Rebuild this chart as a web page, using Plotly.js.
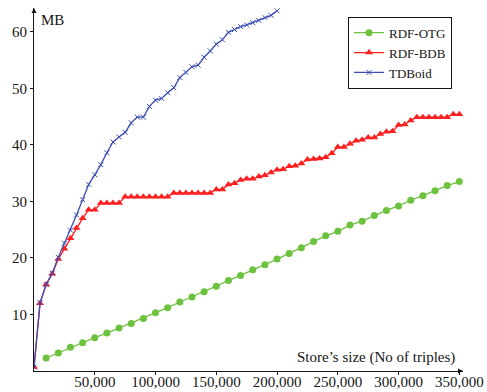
<!DOCTYPE html>
<html>
<head>
<meta charset="utf-8">
<script src="https://cdn.plot.ly/plotly-3.0.1.min.js"></script>
<style>html,body{margin:0;padding:0;background:#fff;}#chart{width:487px;height:392px;}</style>
</head>
<body>
<div id="chart"></div>
<script>
// Store size (No of triples)
const xOTG = [10000,20000,30000,40000,50000,60000,70000,80000,90000,100000,110000,120000,130000,140000,150000,160000,170000,180000,190000,200000,210000,220000,230000,240000,250000,260000,270000,280000,290000,300000,310000,320000,330000,340000,350000];
const yOTG = [2.3,3.2,4.2,5.0,5.9,6.7,7.6,8.4,9.3,10.3,11.2,12.2,13.1,14.0,15.0,16.0,16.9,17.9,18.8,19.8,20.8,21.8,22.9,23.9,24.7,25.8,26.5,27.5,28.4,29.2,30.2,31.0,31.9,32.8,33.5];

const xBDB = [0,5000,10000,15000,20000,25000,30000,35000,40000,45000,50000,55000,60000,65000,70000,75000,80000,85000,90000,95000,100000,105000,110000,115000,120000,125000,130000,135000,140000,145000,150000,155000,160000,165000,170000,175000,180000,185000,190000,195000,200000,205000,210000,215000,220000,225000,230000,235000,240000,245000,250000,255000,260000,265000,270000,275000,280000,285000,290000,295000,300000,305000,310000,315000,320000,325000,330000,335000,340000,345000,350000];
const yBDB = [0.7,12.0,15.3,17.2,19.8,21.6,23.5,25.3,27.0,28.5,28.5,29.7,29.7,29.7,29.7,30.8,30.8,30.8,30.8,30.8,30.8,30.8,30.8,31.5,31.5,31.5,31.5,31.5,31.5,31.5,32.1,32.1,33.0,33.2,33.8,34.0,34.0,34.4,34.6,35.1,35.6,35.7,36.2,36.3,36.7,37.4,37.5,37.6,37.8,38.5,39.6,39.6,40.2,40.7,40.9,41.3,41.3,41.9,42.3,42.4,43.5,43.6,44.3,44.9,44.9,44.9,44.9,44.9,44.9,45.4,45.4];

const xTDB = [0,5000,10000,15000,20000,25000,30000,35000,40000,45000,50000,55000,60000,65000,70000,75000,80000,85000,90000,95000,100000,105000,110000,115000,120000,125000,130000,135000,140000,145000,150000,155000,160000,165000,170000,175000,180000,185000,190000,195000,200000];
const yTDB = [0.7,12.1,15.3,17.3,20.1,22.6,24.9,27.6,30.3,33.0,34.7,36.5,38.6,40.5,41.4,42.2,43.9,44.9,44.9,46.8,47.9,48.2,49.2,50.1,51.9,52.8,53.8,54.1,55.5,56.6,57.8,58.6,59.9,60.4,60.9,61.2,61.6,62.0,62.5,62.9,63.7];

const xTicks = [50000,100000,150000,200000,250000,300000,350000];
const xTickText = ['50,000','100,000','150,000','200,000','250,000','300,000','350,000'];
const yTicks = [10,20,30,40,50,60];
const yTickText = ['10','20','30','40','50','60'];
const seriesNames = ['RDF-OTG','RDF-BDB','TDBoid'];
const yTitle = 'MB';
const xTitle = 'Store’s size (No of triples)';

const FONT = 'Liberation Serif, DejaVu Serif, serif';
const INK = '#151515';

const traces = [
  {x: xOTG, y: yOTG, name: seriesNames[0], type: 'scatter', mode: 'lines+markers',
   line: {color: '#6cc23e', width: 1.3}, marker: {symbol: 'circle', size: 7, color: '#6cc23e'}},
  {x: xBDB, y: yBDB, name: seriesNames[1], type: 'scatter', mode: 'lines+markers',
   line: {color: '#ff1f1f', width: 1.3}, marker: {symbol: 'triangle-up', size: 7, color: '#ff1f1f'}},
  {x: xTDB, y: yTDB, name: seriesNames[2], type: 'scatter', mode: 'lines+markers',
   line: {color: '#3b4db3', width: 1.3}, marker: {symbol: 'x-thin-open', size: 5, color: '#3b4db3', line: {color: '#3b4db3', width: 1}}}
];

const layout = {
  width: 487, height: 392,
  margin: {l: 34, r: 24, t: 8, b: 21, pad: 0},
  paper_bgcolor: '#fff', plot_bgcolor: '#fff',
  font: {family: FONT, size: 15, color: INK},
  showlegend: true,
  legend: {x: 0.732, y: 0.976, xanchor: 'left', yanchor: 'top',
           bgcolor: '#fff', bordercolor: INK, borderwidth: 1,
           font: {family: FONT, size: 13, color: INK}, tracegroupgap: 0, itemwidth: 30},
  xaxis: {range: [0, 353000], showgrid: false, zeroline: false,
          showline: true, linecolor: INK, linewidth: 1,
          tickmode: 'array', tickvals: xTicks, ticktext: xTickText,
          ticks: 'outside', ticklen: 3, tickcolor: INK, ticklabelstandoff: -6,
          tickfont: {family: FONT, size: 15, color: INK}, fixedrange: true},
  yaxis: {range: [0, 64.2], showgrid: false, zeroline: false,
          showline: true, linecolor: INK, linewidth: 1,
          tickmode: 'array', tickvals: yTicks, ticktext: yTickText,
          ticks: 'outside', ticklen: 3, tickcolor: INK,
          tickfont: {family: FONT, size: 15, color: INK}, fixedrange: true},
  annotations: [
    {xref: 'paper', yref: 'paper', x: 0.012, y: 0.967, xanchor: 'left', yanchor: 'middle',
     text: yTitle, showarrow: false, font: {family: FONT, size: 15, color: INK}},
    {xref: 'paper', yref: 'paper', x: 0.985, y: 0.037, xanchor: 'right', yanchor: 'middle',
     text: xTitle, showarrow: false, font: {family: FONT, size: 15, color: INK}},
    {xref: 'paper', yref: 'paper', x: 1, y: 0, ax: -6, ay: 0, text: '', showarrow: true,
     arrowhead: 2, arrowsize: 1, arrowwidth: 1, arrowcolor: INK},
    {xref: 'paper', yref: 'paper', x: 0, y: 1, ax: 0, ay: 6, text: '', showarrow: true,
     arrowhead: 2, arrowsize: 1, arrowwidth: 1, arrowcolor: INK}
  ]
};

Plotly.newPlot('chart', traces, layout, {displayModeBar: false, staticPlot: true});
</script>
</body>
</html>
